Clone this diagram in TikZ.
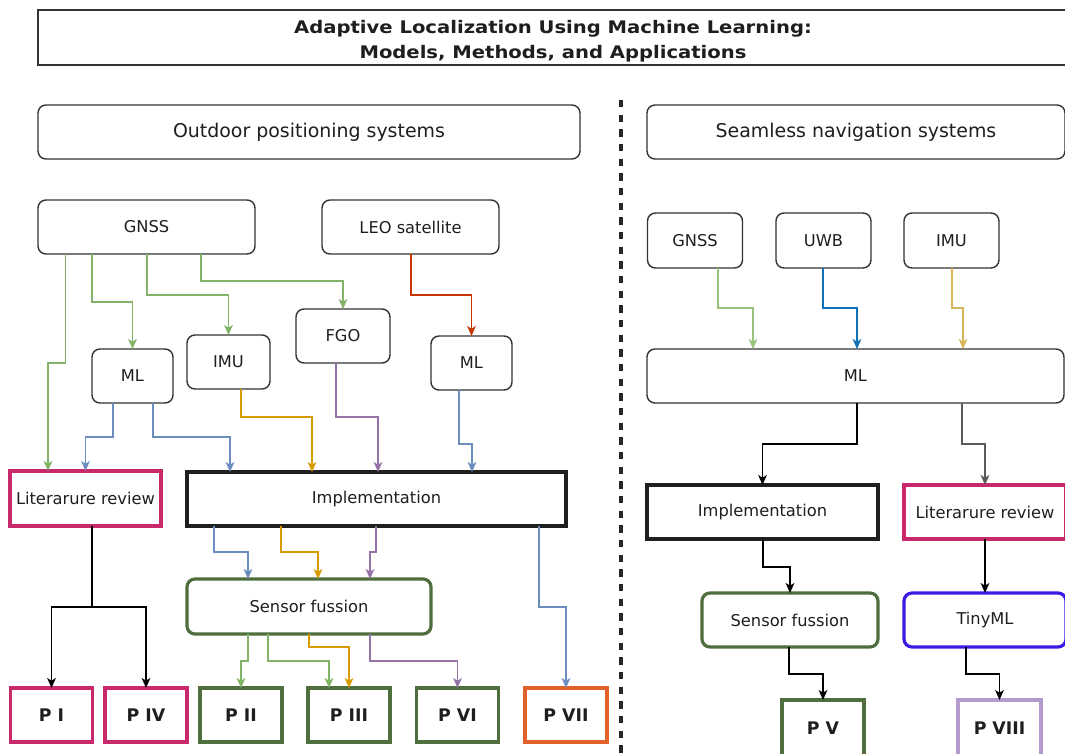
\documentclass[tikz,border=0pt]{standalone}
\usepackage{fontspec}
\usepackage{graphicx}
\setmainfont{DejaVu Sans}
\usetikzlibrary{arrows.meta}
\definecolor{txt}{HTML}{1E1E1E}
\definecolor{boxgray}{HTML}{333333}
\definecolor{cgreen}{HTML}{82B366}
\definecolor{cgreenl}{HTML}{97C47A}
\definecolor{cblue}{HTML}{6C8EBF}
\definecolor{cuwb}{HTML}{1070B8}
\definecolor{corange}{HTML}{D79B00}
\definecolor{cgold}{HTML}{D6B656}
\definecolor{cpurple}{HTML}{9673A6}
\definecolor{cred}{HTML}{C73500}
\definecolor{cgray}{HTML}{5A5A5A}
\definecolor{bpink}{HTML}{C8296A}
\definecolor{bgreen}{HTML}{4E6E3E}
\definecolor{borange}{HTML}{E1622A}
\definecolor{bblue}{HTML}{3A1CE6}
\definecolor{blilac}{HTML}{B49ACD}
\begin{document}
\begin{tikzpicture}[x=0.75pt,y=-0.75pt,
  lbl/.style={font=\fontsize{12.2}{14}\selectfont, text=txt},
  plain/.style={lbl, draw=boxgray, line width=1.05pt, rounded corners=6pt, inner sep=0pt, outer sep=0pt, minimum height=40.5pt},
  header/.style={plain, font=\fontsize{14.2}{16}\selectfont},
  litbox/.style={lbl, draw=bpink, line width=2.4pt, inner sep=0pt, outer sep=0pt, minimum height=41.25pt},
  implbox/.style={lbl, draw=black!88, line width=2.6pt, inner sep=0pt, outer sep=0pt, minimum height=40.5pt},
  sensbox/.style={lbl, draw=bgreen, line width=2.4pt, rounded corners=6pt, inner sep=0pt, outer sep=0pt, minimum height=41.25pt},
  tinybox/.style={sensbox, draw=bblue},
  pbox/.style={draw=#1, line width=2.5pt, inner sep=0pt, outer sep=0pt, minimum width=61.5pt, minimum height=40.5pt, text=txt, font=\bfseries\fontsize{13}{15}\selectfont},
  conn/.style={draw=#1, line width=1pt, -{Stealth[length=7.5pt,width=6.5pt,inset=2pt]}},
]
\useasboundingbox (0,0) rectangle (1065,754);
\clip (0,0) rectangle (1065,754);
\fill[white] (0,0) rectangle (1065,754);

% title
\node[draw=boxgray, line width=1.05pt, minimum width=774pt, minimum height=41.25pt, inner sep=0pt] (title) at (554,37.5) {};
\node[align=center, inner sep=0pt, text=txt, font=\bfseries\fontsize{13}{18.75}\selectfont] (titletext) at (553,41)
  {\scalebox{1.13}[1]{Adaptive Localization Using Machine Learning:}\\\scalebox{1.13}[1]{Models, Methods, and Applications}};

% separator
\draw[line width=2.5pt, dash pattern=on 5.5pt off 5.5pt, color=black!85] (621,100) -- (621,760);

% headers
\node[header, minimum width=406.5pt] (outdoor) at (309,132) {Outdoor positioning systems};
\node[header, minimum width=313.5pt] (seamless) at (856,132) {Seamless navigation systems};

% left column nodes
\node[plain, minimum width=162.75pt] (gnssL) at (146.5,227) {GNSS};
\node[plain, minimum width=132.75pt] (leo) at (410.5,227) {LEO satellite};
\node[plain, minimum width=60.75pt] (mlA) at (132.5,376) {ML};
\node[plain, minimum width=62.25pt] (imuL) at (228.5,362) {IMU};
\node[plain, minimum width=70.5pt] (fgo) at (343,336) {FGO};
\node[plain, minimum width=60.75pt] (mlB) at (471.5,363) {ML};
\node[litbox, minimum width=113.25pt] (litL) at (85.5,498.5) {Literarure review};
\node[implbox, minimum width=284.25pt] (implL) at (376.5,499) {Implementation};
\node[sensbox, minimum width=183pt] (sensL) at (309,606.5) {Sensor fussion};
\node[pbox=bpink] (p1) at (51.5,715) {P I};
\node[pbox=bpink] (p4) at (146,715) {P IV};
\node[pbox=bgreen] (p2) at (241,715) {P II};
\node[pbox=bgreen] (p3) at (349,715) {P III};
\node[pbox=bgreen] (p6) at (457.5,715) {P VI};
\node[pbox=borange] (p7) at (566,715) {P VII};

% right column nodes
\node[plain, minimum width=71.25pt, minimum height=41.25pt] (gnssR) at (695,240.5) {GNSS};
\node[plain, minimum width=71.25pt, minimum height=41.25pt] (uwb) at (823.5,240.5) {UWB};
\node[plain, minimum width=71.25pt, minimum height=41.25pt] (imuR) at (951.5,240.5) {IMU};
\node[plain, minimum width=312.75pt] (mlR) at (855.5,376) {ML};
\node[implbox, minimum width=173.25pt] (implR) at (762.5,512) {Implementation};
\node[litbox, minimum width=121.5pt, minimum height=40.5pt] (litR) at (985,512) {Literarure review};
\node[sensbox, minimum width=132pt, minimum height=40.5pt] (sensR) at (790,620) {Sensor fussion};
\node[tinybox, minimum width=121.5pt, minimum height=40.5pt] (tiny) at (985,620) {TinyML};
\node[pbox=bgreen, minimum height=42pt] (p5) at (823,728) {P V};
\node[pbox=blilac, minimum width=62.25pt, minimum height=42pt] (p8) at (999.5,728) {P VIII};

% left connectors
\draw[conn=cgreen] (gnssL.south -| 65.5,0) |- (48,363) -- (litL.north -| 48,0);
\draw[conn=cgreen] (gnssL.south -| 92,0) |- (132.5,302) -- (mlA.north);
\draw[conn=cgreen] (gnssL.south -| 147,0) |- (228.5,295) -- (imuL.north);
\draw[conn=cgreen] (gnssL.south -| 201,0) |- (343,281) -- (fgo.north);
\draw[conn=cred] (leo.south -| 411,0) |- (471.5,295) -- (mlB.north);
\draw[conn=cblue] (mlA.south -| 113,0) |- (85.5,437) -- (litL.north);
\draw[conn=cblue] (mlA.south -| 153,0) |- (230,437) -- (implL.north -| 230,0);
\draw[conn=corange] (imuL.south -| 241,0) |- (312,417) -- (implL.north -| 312,0);
\draw[conn=cpurple] (fgo.south -| 336,0) |- (378,417) -- (implL.north -| 378,0);
\draw[conn=cblue] (mlB.south -| 459,0) |- (472,444) -- (implL.north -| 472,0);
\draw[conn=black] (litL.south -| 92,0) |- (51.5,607) -- (p1.north);
\draw[conn=black] (litL.south -| 92,0) |- (146,607) -- (p4.north);
\draw[conn=cblue] (implL.south -| 214,0) |- (248,552) -- (sensL.north -| 248,0);
\draw[conn=corange] (implL.south -| 281,0) |- (318,552) -- (sensL.north -| 318,0);
\draw[conn=cpurple] (implL.south -| 376,0) |- (370,552) -- (sensL.north -| 370,0);
\draw[conn=cblue] (implL.south -| 539,0) |- (566,607) -- (p7.north);
\draw[conn=cgreen] (sensL.south -| 248,0) |- (241,661) -- (p2.north);
\draw[conn=cgreen] (sensL.south -| 268,0) |- (329,661) -- (p3.north -| 329,0);
\draw[conn=corange] (sensL.south -| 309,0) |- (349,647) -- (p3.north);
\draw[conn=cpurple] (sensL.south -| 370,0) |- (457.5,661) -- (p6.north);

% right connectors
\draw[conn=cgreenl] (gnssR.south -| 718,0) |- (753,308) -- (mlR.north -| 753,0);
\draw[conn=cuwb] (uwb.south -| 823,0) |- (857,308) -- (mlR.north -| 857,0);
\draw[conn=cgold] (imuR.south -| 952,0) |- (963,308) -- (mlR.north -| 963,0);
\draw[conn=black] (mlR.south -| 857,0) |- (762.5,444) -- (implR.north);
\draw[conn=cgray] (mlR.south -| 962,0) |- (985,444) -- (litR.north);
\draw[conn=black] (implR.south -| 763,0) |- (790,567) -- (sensR.north);
\draw[conn=black] (litR.south) -- (tiny.north);
\draw[conn=black] (sensR.south -| 789,0) |- (823,674) -- (p5.north);
\draw[conn=black] (tiny.south -| 966,0) |- (999.5,674) -- (p8.north);
\end{tikzpicture}
\end{document}
